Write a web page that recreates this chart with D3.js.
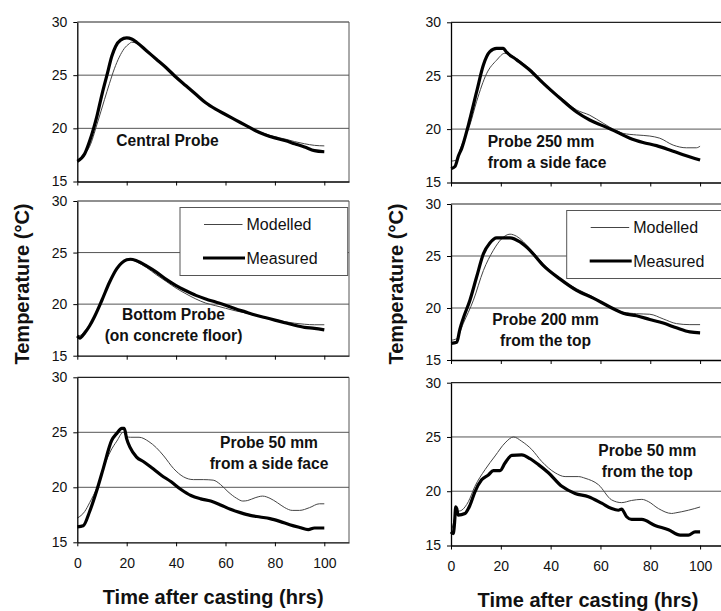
<!DOCTYPE html>
<html>
<head>
<meta charset="utf-8">
<script src="https://cdn.jsdelivr.net/npm/d3@7"></script>
<style>
  body { margin: 0; background: #fff; }
  svg { display: block; font-family: "Liberation Sans", Arial, sans-serif; }
</style>
</head>
<body>
<div id="chart"></div>
<script>
// hours after casting / temperature (deg C)
const centralMeasured = [[0,16.9],[3,17.6],[5,18.8],[8,21.2],[10,23.2],[12,25.0],[14,26.8],[15.5,27.7],[17.5,28.3],[20,28.5],[22,28.4],[24,28.1],[28,27.3],[32,26.5],[36,25.7],[40,24.8],[44,24.0],[48,23.2],[52,22.4],[56,21.8],[60,21.3],[64,20.8],[68,20.3],[72,19.8],[76,19.4],[80,19.1],[84,18.85],[88,18.55],[92,18.25],[96,17.9],[100,17.8]];
const centralModelled = [[0,16.9],[3,17.6],[5,18.3],[8,20.4],[11,22.7],[13,24.2],[15,25.6],[17,26.7],[19,27.5],[21,27.95],[22,28.1],[24,28.0],[28,27.3],[32,26.5],[36,25.7],[40,24.8],[44,24.0],[48,23.2],[52,22.4],[56,21.8],[60,21.3],[64,20.8],[68,20.3],[72,19.8],[76,19.5],[80,19.2],[84,19.0],[88,18.75],[92,18.55],[96,18.4],[100,18.35]];

const bottomMeasured = [[0,16.9],[1,16.7],[3,17.2],[5,17.9],[7,18.8],[10,20.4],[13,22.1],[16,23.45],[18,24.0],[20,24.3],[21.5,24.35],[24,24.2],[28,23.7],[32,23.1],[36,22.4],[40,21.8],[44,21.3],[48,20.85],[52,20.5],[56,20.2],[60,19.9],[64,19.55],[68,19.25],[72,18.95],[76,18.7],[80,18.45],[84,18.2],[88,17.95],[92,17.75],[96,17.65],[100,17.5]];
const bottomModelled = [[0,17.0],[1,16.95],[3,17.4],[5,18.0],[7,18.9],[10,20.4],[13,22.1],[16,23.5],[18,24.05],[20,24.3],[22,24.3],[24,24.1],[28,23.55],[32,22.85],[36,22.2],[40,21.55],[44,21.0],[48,20.5],[52,20.1],[56,19.85],[60,19.6],[64,19.35],[68,19.15],[72,18.9],[76,18.7],[80,18.5],[84,18.3],[88,18.15],[92,18.05],[96,18.0],[100,18.0]];

const side50Measured = [[0,16.4],[2.4,16.5],[5,17.8],[8,19.8],[10.5,21.7],[13.9,24.25],[16,24.9],[18,25.35],[19,25.35],[20,24.4],[21.3,23.65],[24,22.75],[27,22.3],[30,21.8],[34,21.1],[38,20.5],[42,19.8],[46,19.25],[50,18.95],[54,18.75],[58,18.4],[62,18.0],[66,17.7],[70,17.45],[74,17.3],[78,17.15],[82,16.9],[86,16.6],[90,16.35],[93.5,16.15],[96,16.3],[100,16.3]];
const side50Modelled = [[0,17.2],[3,17.8],[5,18.6],[8,20.0],[11,22.0],[13.5,23.3],[16,24.2],[18.6,25.0],[20,24.6],[21.5,24.55],[25,24.55],[29,24.15],[32,23.6],[35,22.85],[39,21.7],[43,20.95],[47,20.7],[51,20.7],[55,20.65],[58,20.25],[61,19.6],[64.5,19.0],[67,18.75],[69,18.8],[72,19.05],[75,19.2],[78,19.0],[81,18.6],[84,18.15],[87,17.9],[90,17.9],[94,18.15],[98,18.5],[100,18.5]];

const side250Measured = [[0,16.3],[1.6,16.5],[3,17.5],[4.3,18.2],[7,20.4],[10.3,23.5],[13,26.0],[15.6,27.25],[18.3,27.55],[21,27.55],[22.3,27.2],[26.3,26.5],[31.7,25.5],[37,24.3],[43.7,22.9],[50.4,21.6],[55.7,20.85],[61.1,20.3],[66.4,19.75],[71.8,19.15],[77.1,18.75],[82.5,18.45],[87.8,18.05],[93.2,17.6],[100,17.1]];
const side250Modelled = [[0,17.0],[2.3,17.1],[3.6,18.05],[7.6,20.4],[10.3,22.6],[14.3,25.2],[18.3,26.45],[21.6,27.1],[25,26.8],[29,26.15],[34.4,25.05],[37,24.2],[43.7,23.05],[50.4,21.8],[55.7,21.3],[61.1,20.55],[66.4,19.85],[69.1,19.6],[74.5,19.45],[79.8,19.35],[83.8,19.15],[89.2,18.5],[94.5,18.25],[98.5,18.25],[100,18.4]];

const top200Measured = [[0,16.6],[2.3,16.7],[3.6,18.0],[4.9,19.0],[7.6,20.75],[10.3,23.0],[13,25.2],[15.6,26.25],[18.3,26.75],[23.7,26.75],[27.7,26.35],[31.7,25.55],[37,24.1],[43.7,22.8],[50.4,21.7],[57.1,20.95],[63.8,20.1],[69.1,19.5],[74.5,19.25],[79.8,18.9],[85.2,18.55],[90.5,18.1],[95.9,17.7],[100,17.6]];
const top200Modelled = [[0,16.9],[2.3,17.05],[4.9,18.5],[9,20.75],[13,23.6],[17,25.55],[20.3,26.65],[23.7,27.1],[26.3,26.9],[31.7,25.7],[37,24.25],[43.7,22.8],[50.4,21.85],[57.1,21.05],[63.8,20.1],[69.1,19.6],[74.5,19.45],[79.8,19.4],[85.2,18.95],[90.5,18.5],[95.9,18.4],[100,18.4]];

const top50Measured = [[0,16.25],[0.9,16.1],[1.4,17.0],[1.9,18.55],[2.3,18.4],[2.9,17.8],[5.6,17.95],[7.6,18.7],[9.6,19.95],[12.3,21.05],[15,21.5],[17,21.9],[19.7,21.9],[21.7,22.6],[24.4,23.3],[28.4,23.35],[31.7,23.0],[35.1,22.45],[39.1,21.7],[44.5,20.45],[49.8,19.8],[55.2,19.5],[60.5,18.9],[64.5,18.4],[67.2,18.25],[68.5,18.35],[70.5,17.65],[72.5,17.4],[76.6,17.4],[81.9,16.85],[87.3,16.45],[92,15.95],[95.3,15.95],[98,16.25],[100,16.25]];
const top50Modelled = [[0,16.1],[0.9,17.0],[2.3,18.1],[4.3,18.25],[7,19.05],[9.6,20.45],[13.7,22.0],[17.7,23.25],[21.7,24.45],[25.1,25.0],[28.4,24.6],[32.4,23.85],[36.4,22.75],[41.8,21.7],[45.8,21.35],[51.1,21.35],[53.8,21.2],[59.2,20.6],[64.5,19.2],[68.5,18.95],[72.5,19.15],[76.6,19.25],[79.2,19.05],[83.3,18.4],[88.6,17.95],[90,18.0],[95.3,18.25],[100,18.55]];

const yTicks = [15, 20, 25, 30];
const xTicks = [0, 20, 40, 60, 80, 100];
const legendNames = ["Modelled", "Measured"];
const xTitle = "Time after casting (hrs)";
const yTitle = "Temperature (°C)";

// panel layout (pixel positions)
const columns = [
    {x0: 77.3, x1: 349, titleX: 29},
    {x0: 451, x1: 725, titleX: 402.7}
];

const panels = [
    {col: 0, top: 22, bottom: 181.5, measured: centralMeasured, modelled: centralModelled,
     text: ["Central Probe"], tx: 167.5, ty: 145.5, anchor: "middle"},
    {col: 0, top: 201, bottom: 355.7, measured: bottomMeasured, modelled: bottomModelled,
     text: ["Bottom Probe", "(on concrete floor)"], tx: 173.5, ty: 319.5, anchor: "middle", legend: true},
    {col: 0, top: 377.3, bottom: 542.3, measured: side50Measured, modelled: side50Modelled,
     text: ["Probe 50 mm", "from a side face"], tx: 269, ty: 447.7, anchor: "middle", axisLabels: true},
    {col: 1, top: 22.3, bottom: 182.5, measured: side250Measured, modelled: side250Modelled,
     text: ["Probe 250 mm", "from a side face"], tx: 487.7, ty: 146.7, anchor: "start"},
    {col: 1, top: 204, bottom: 360, measured: top200Measured, modelled: top200Modelled,
     text: ["Probe 200 mm", "from the top"], tx: 545.5, ty: 325.4, anchor: "middle", legend: true},
    {col: 1, top: 382.7, bottom: 545.5, measured: top50Measured, modelled: top50Modelled,
     text: ["Probe 50 mm", "from the top"], tx: 647.3, ty: 456, anchor: "middle", axisLabels: true}
];

const svg = d3.select("#chart").append("svg")
    .attr("width", 721)
    .attr("height", 611);

panels.forEach(p => {
    let c = columns[p.col];

    let x = d3.scaleLinear().domain([0, 110]).range([c.x0, c.x1]);
    let y = d3.scaleLinear().domain([15, 30]).range([p.bottom, p.top]);

    let g = svg.append("g");

    // gridlines at 20, 25 plus top frame at 30
    g.selectAll(".grid").data([20, 25]).enter().append("line")
        .attr("x1", c.x0).attr("x2", c.x1)
        .attr("y1", d => y(d)).attr("y2", d => y(d))
        .attr("stroke", "#555").attr("stroke-width", 1);

    g.append("line")
        .attr("x1", c.x0).attr("x2", c.x1)
        .attr("y1", y(30)).attr("y2", y(30))
        .attr("stroke", "#222").attr("stroke-width", 1.2);

    // right frame
    g.append("line")
        .attr("x1", c.x1).attr("x2", c.x1)
        .attr("y1", y(30)).attr("y2", y(15))
        .attr("stroke", "#555").attr("stroke-width", 1);

    let line = d3.line()
        .x(d => x(d[0]))
        .y(d => y(d[1]))
        .curve(d3.curveMonotoneX);

    g.append("path").datum(p.modelled)
        .attr("d", line)
        .attr("fill", "none")
        .attr("stroke", "#444")
        .attr("stroke-width", 1);

    g.append("path").datum(p.measured)
        .attr("d", line)
        .attr("fill", "none")
        .attr("stroke", "#000")
        .attr("stroke-width", 3.2)
        .attr("stroke-linejoin", "round");

    // axes
    let yAxis = d3.axisLeft(y).tickValues(yTicks).tickSize(4).tickSizeOuter(0).tickPadding(6);
    let ya = g.append("g").attr("transform", `translate(${c.x0},0)`).call(yAxis);

    let xAxis = d3.axisBottom(x).tickValues(xTicks).tickSize(4).tickSizeOuter(0).tickPadding(12);
    if (!p.axisLabels) xAxis.tickFormat("");
    let xa = g.append("g").attr("transform", `translate(0,${p.bottom})`).call(xAxis);

    [ya, xa].forEach(a => {
        a.select(".domain").attr("stroke", "#000").attr("stroke-width", 1.3);
        a.selectAll(".tick line").attr("stroke", "#000");
        a.selectAll("text")
            .attr("font-family", "Liberation Sans, Arial, sans-serif")
            .attr("font-size", 14)
            .attr("fill", "#111");
    });

    // panel caption
    p.text.forEach((t, i) => {
        g.append("text")
            .attr("x", p.tx)
            .attr("y", p.ty + i * 21)
            .attr("text-anchor", p.anchor)
            .attr("font-size", 15.6)
            .attr("font-weight", "bold")
            .attr("fill", "#111")
            .text(t);
    });

    // legend box
    if (p.legend) {
        let lx = p.col === 0 ? 180 : 566.7;
        let lw = p.col === 0 ? 167.7 : 160;
        let ly = y(30) + 6.5;
        let lg = g.append("g").attr("transform", `translate(${lx},${ly})`);
        lg.append("rect")
            .attr("width", lw).attr("height", 68)
            .attr("fill", "#fff")
            .attr("stroke", "#555").attr("stroke-width", 1);
        legendNames.forEach((name, i) => {
            let yy = 17 + i * 33.5;
            lg.append("line")
                .attr("x1", i === 0 ? 24 : 23).attr("x2", i === 0 ? 62.5 : 65)
                .attr("y1", yy).attr("y2", yy)
                .attr("stroke", i === 0 ? "#444" : "#000")
                .attr("stroke-width", i === 0 ? 1 : 3.2);
            lg.append("text")
                .attr("x", 66.5).attr("y", yy + 5.8)
                .attr("font-size", 16)
                .attr("fill", "#111")
                .text(name);
        });
    }
});

// axis titles per column
columns.forEach(c => {
    svg.append("text")
        .attr("transform", `translate(${c.titleX},284) rotate(-90)`)
        .attr("text-anchor", "middle")
        .attr("font-size", 20)
        .attr("font-weight", "bold")
        .attr("fill", "#111")
        .text(yTitle);

    svg.append("text")
        .attr("x", (c.x0 + c.x1) / 2)
        .attr("y", c.x0 < 100 ? 604 : 607)
        .attr("text-anchor", "middle")
        .attr("font-size", 20)
        .attr("font-weight", "bold")
        .attr("fill", "#111")
        .text(xTitle);
});
</script>
</body>
</html>
